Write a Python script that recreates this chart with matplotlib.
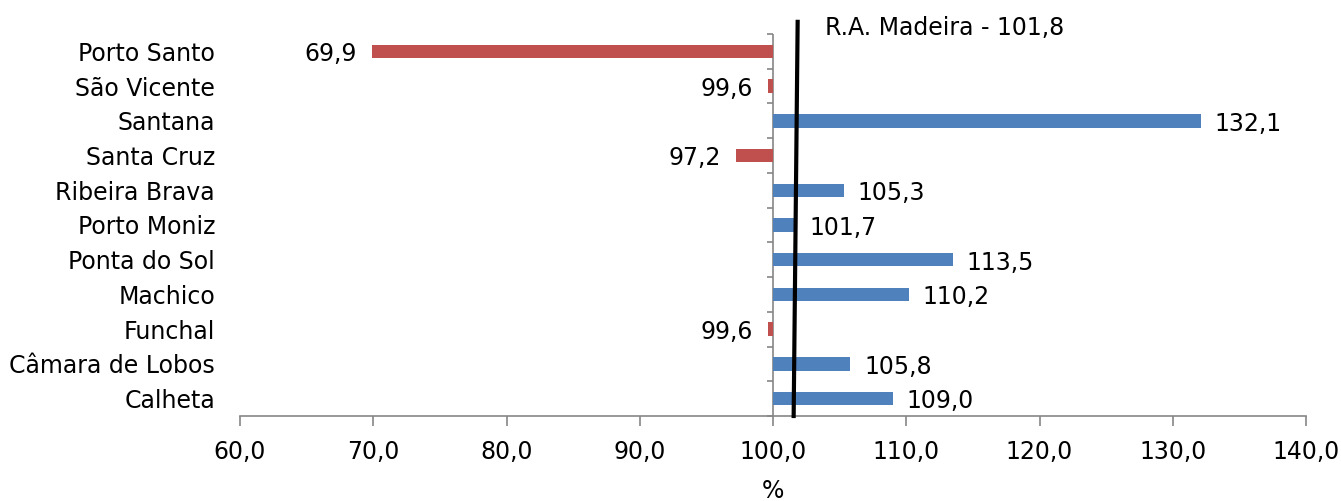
import numpy as np
import matplotlib
matplotlib.use("Agg")
import matplotlib.pyplot as plt

# -----------------------------
# Data (bottom to top)
# -----------------------------
municipios = ["Calheta", "Câmara de Lobos", "Funchal", "Machico", "Ponta do Sol",
              "Porto Moniz", "Ribeira Brava", "Santa Cruz", "Santana",
              "São Vicente", "Porto Santo"]
valores = [109.0, 105.8, 99.6, 110.2, 113.5, 101.7, 105.3, 97.2, 132.1, 99.6, 69.9]
base = 100.0
madeira = 101.8
madeira_label = "R.A. Madeira - 101,8"
xticks = [60, 70, 80, 90, 100, 110, 120, 130, 140]

BLUE = "#4F81BD"
RED = "#C0504D"
GRAY = "#868686"

plt.rcParams["font.family"] = "DejaVu Sans"
FS = 17

fig = plt.figure(figsize=(13.41, 5.01), dpi=100)
ax = fig.add_axes([240 / 1341, 85 / 501, (1306 - 240) / 1341, (416 - 34) / 501])

y = np.arange(len(municipios))
vals = np.array(valores)
colors = [BLUE if v >= base else RED for v in vals]
ax.barh(y, vals - base, left=base, height=0.39, color=colors, zorder=2)

# value labels
for yi, v in zip(y, vals):
    txt = f"{v:.1f}".replace(".", ",")
    if v >= base:
        ax.annotate(txt, (v, yi), xytext=(10, -2), textcoords="offset points",
                    ha="left", va="center", fontsize=FS)
    else:
        ax.annotate(txt, (v, yi), xytext=(-11, -2), textcoords="offset points",
                    ha="right", va="center", fontsize=FS)

# axes styling
ax.set_xlim(60, 140)
ax.set_ylim(-0.5, len(municipios) - 0.5)
for s in ["top", "right", "left"]:
    ax.spines[s].set_visible(False)
ax.spines["bottom"].set_color(GRAY)
ax.spines["bottom"].set_linewidth(1.2)

ax.set_xticks(xticks)
ax.set_xticklabels([f"{t:.1f}".replace(".", ",") for t in xticks], fontsize=FS)
ax.tick_params(axis="x", direction="out", length=7, width=1.2, color=GRAY, pad=10)
ax.set_xlabel("%", fontsize=FS, labelpad=11)

ax.set_yticks(y)
ax.set_yticklabels(municipios, fontsize=FS)
ax.tick_params(axis="y", length=0, pad=18)

# category axis at 100
ax.axvline(base, color=GRAY, lw=1.2, zorder=1)
ax.hlines(np.arange(-0.5, len(municipios), 1), base - 0.45, base,
          color=GRAY, lw=1.2, clip_on=False, zorder=1)

# R.A. Madeira reference line (slightly tilted as in source)
ax.plot([madeira - 0.25, madeira + 0.05], [-0.5, 10.85], color="black",
        lw=3, clip_on=False, zorder=3)
ax.text(madeira + 2.1, 10.67, madeira_label, fontsize=FS, ha="left", va="center")

fig.savefig("out.png", dpi=100)
